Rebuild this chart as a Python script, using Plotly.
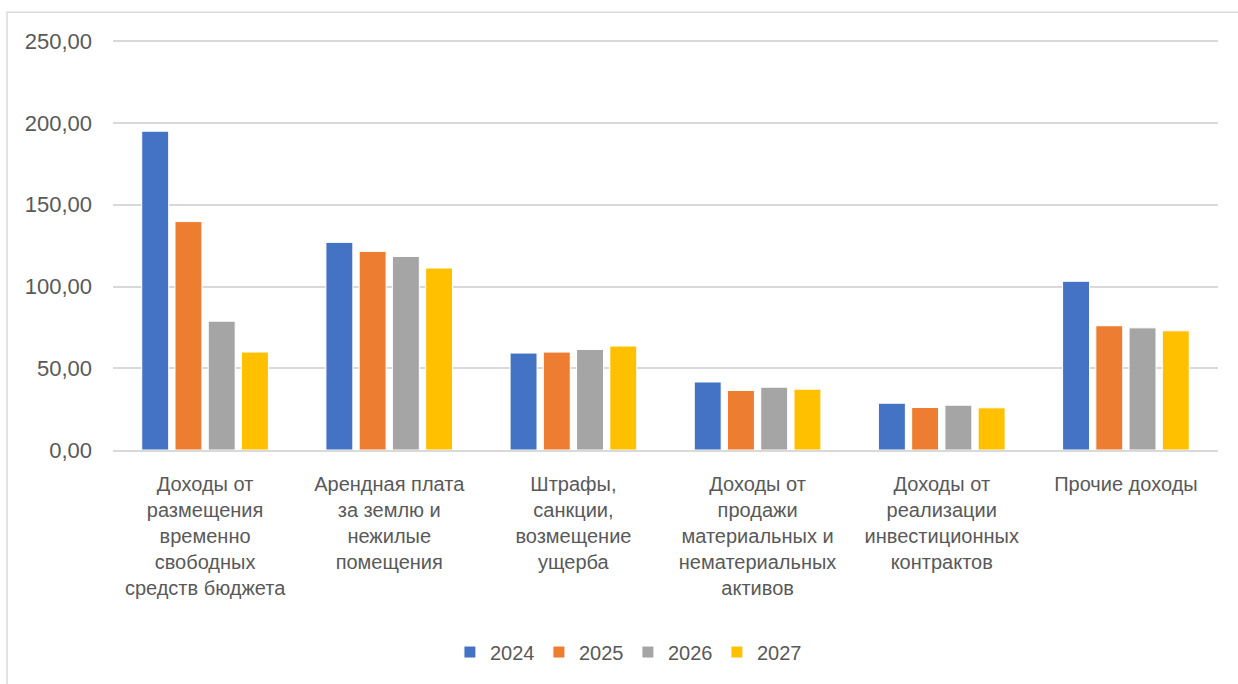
import plotly.graph_objects as go

categories = [
    "Доходы от<br>размещения<br>временно<br>свободных<br>средств бюджета",
    "Арендная плата<br>за землю и<br>нежилые<br>помещения",
    "Штрафы,<br>санкции,<br>возмещение<br>ущерба",
    "Доходы от<br>продажи<br>материальных и<br>нематериальных<br>активов",
    "Доходы от<br>реализации<br>инвестиционных<br>контрактов",
    "Прочие доходы",
]
years = ["2024", "2025", "2026", "2027"]
v2024 = [195.0, 127.0, 59.3, 41.6, 28.6, 103.2]
v2025 = [139.7, 121.5, 59.9, 36.4, 26.0, 76.0]
v2026 = [78.8, 118.4, 61.5, 38.4, 27.4, 74.7]
v2027 = [59.9, 111.3, 63.6, 37.2, 25.8, 72.9]
colors = ["#4472C4", "#ED7D31", "#A5A5A5", "#FFC000"]

fig = go.Figure()
for name, vals, col in zip(years, [v2024, v2025, v2026, v2027], colors):
    fig.add_trace(go.Bar(
        x=categories, y=vals, name=name,
        marker=dict(color=col, line=dict(color="white", width=1)),
    ))

txt = "#595959"
plot_h = 684 - 38 - 232
fig.update_layout(
    width=1238, height=684,
    barmode="group", bargap=0.278, bargroupgap=0.19,
    separators=", ",
    font=dict(family="Liberation Sans, Arial, sans-serif", size=20, color=txt),
    plot_bgcolor="white", paper_bgcolor="white",
    margin=dict(l=113, r=20, t=38, b=232),
    showlegend=True,
    legend=dict(orientation="h", x=0.466, xanchor="center",
                y=-(655 - 452) / plot_h, yanchor="middle",
                entrywidth=44, entrywidthmode="pixels",
                font=dict(size=20, color=txt), traceorder="normal"),
)
fig.update_yaxes(range=[0, 252], tickvals=[0, 50, 100, 150, 200, 250], tickformat=".2f",
                 tickfont=dict(size=22),
                 showgrid=True, gridcolor="#D9D9D9", gridwidth=1.5,
                 zeroline=False, showline=False, ticklabelstandoff=20)
fig.update_xaxes(showline=True, linecolor="#D9D9D9", linewidth=1.5,
                 tickangle=0, ticklabelstandoff=15)

# chart frame
fig.add_shape(type="rect", xref="paper", yref="paper",
              x0=(7 - 113) / 1105, x1=1.05, y0=-0.7, y1=1 + (38 - 12) / plot_h,
              line=dict(color="#D9D9D9", width=1.5), layer="below")

fig.write_html("out.html", config={"displayModeBar": False},
               post_script="document.body.style.margin='0';")
